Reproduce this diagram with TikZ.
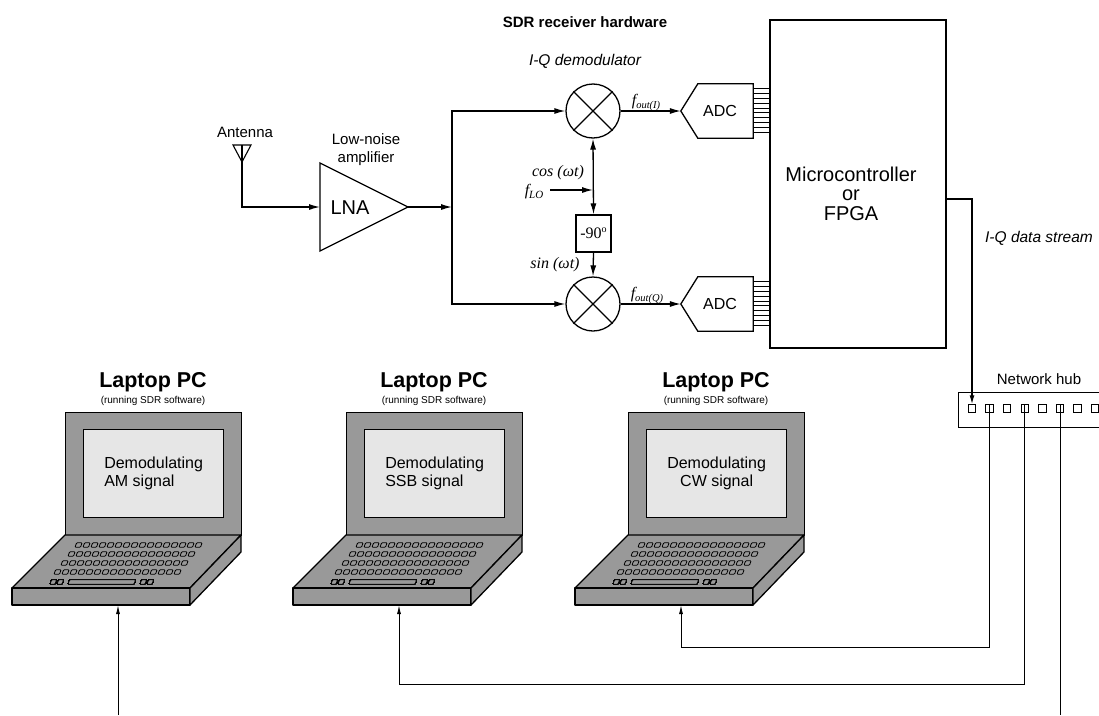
\documentclass[tikz,border=0pt]{standalone}
\usepackage{fontspec}
\setmainfont{Liberation Sans}
\newfontfamily\tms{Liberation Serif}
\usetikzlibrary{arrows.meta,calc}
\definecolor{bodygray}{HTML}{999999}
\definecolor{screengray}{HTML}{E6E6E6}

\tikzset{
  wire/.style={line width=1.3pt},
  arr/.style={wire,-{Latex[length=11pt,width=6pt]}},
  feed/.style={line width=1pt},
  feedarr/.style={feed,-{Latex[length=9pt,width=4pt]}},
  bus/.style={line width=0.8pt},
  lbl/.style={font=\fontsize{15}{18}\selectfont, inner sep=0pt, align=center},
  itlbl/.style={font=\fontsize{15.5}{18}\selectfont\itshape, inner sep=0pt},
  serif/.style={font=\fontsize{16}{18}\selectfont\tms\itshape, inner sep=0pt},
  mixer/.style={circle, draw, wire, minimum size=54pt, inner sep=0pt},
  adcbox/.style={minimum width=72pt, minimum height=54pt, inner sep=0pt,
                 font=\fontsize{16}{18}\selectfont},
  port/.style={draw, line width=1pt, fill=white, minimum size=7.5pt, inner sep=0pt},
  lapline/.style={line width=1.3pt, fill=bodygray, line join=round},
  keyline/.style={line width=0.8pt, fill=bodygray, rounded corners=0.8pt},
  laptitle/.style={font=\fontsize{21.5}{24}\selectfont\bfseries, inner sep=0pt},
  lapsub/.style={font=\fontsize{10}{12}\selectfont, inner sep=0pt},
  lid/.style={draw, line width=1.3pt, fill=bodygray, minimum width=176pt,
              minimum height=123pt, inner sep=0pt},
  screen/.style={draw, line width=1.3pt, fill=screengray, minimum width=140pt,
                 minimum height=88pt, inner sep=0pt, font=\fontsize{16}{18}\selectfont},
}

% one key cap: x, y (centre line), width
\newcommand\keycap[3]{%
  \draw[keyline] (#1,#2+2.2) -- ++(#3,0) -- ++(1.6,-4.4) -- ++(-#3,0) -- cycle;}

% laptop: x offset, name, second screen line, text alignment
\newcommand\laptopunit[4]{%
\begin{scope}[shift={(#1,0)}]
  \node[laptitle] (#2title) at (88,382) {Laptop PC};
  \node[lapsub] (#2sub) at (88,401) {(running SDR software)};
  \node[lid, anchor=north west] (#2lid) at (0,412) {};
  \node[screen, anchor=north west, align=#4] (#2screen) at (18,429) {Demodulating\\#3};
  \draw[lapline] (0,535) -- (176,535) -- (125,588) -- (-53,588) -- cycle;
  \draw[lapline] (-53,588) rectangle (125,605);
  \draw[lapline] (125,588) -- (176,535) -- (176,552) -- (125,605) -- cycle;
  \foreach \r/\s in {0/10,1/3,2/-4,3/-11}
    \foreach \k in {0,...,15}
      \keycap{\s+8*\k}{545+9*\r}{5.5}
  \keycap{-15}{582}{5}
  \keycap{-8}{582}{5}
  \keycap{3}{582}{66}
  \keycap{75}{582}{5}
  \keycap{82}{582}{5}
  \coordinate (#2in) at (53,605);
\end{scope}}

\begin{document}
\begin{tikzpicture}[x=1pt,y=-1pt]
\useasboundingbox (0,0) rectangle (1099,715);
\fill[white] (0,0) rectangle (1099,715);

% headings
\node[font=\fontsize{15}{18}\selectfont\bfseries, inner sep=0pt] (title) at (585,22) {SDR receiver hardware};
\node[itlbl] (demodtitle) at (585,61) {I-Q demodulator};

% antenna and low-noise amplifier
\node[lbl] (antlabel) at (245,132) {Antenna};
\coordinate (ant) at (242,145);
\draw[line width=1.1pt] (233,145) -- (251,145) -- (242,162) -- cycle;
\coordinate (lnain) at (320,207);
\coordinate (lnaout) at (408,207);
\draw[wire, line join=miter] (320,163) -- (lnaout) -- (320,251) -- cycle;
\node[font=\fontsize{20}{22}\selectfont, inner sep=0pt] (lnatext) at (350,208) {LNA};
\node[lbl] (lnalabel) at (366,150) {Low-noise\\amplifier};
\draw[arr] (ant) |- (lnain);

% splitter and mixers
\coordinate (splt) at (452,207);
\draw[arr] (lnaout) -- (splt);
\node[mixer] (m1) at (593,111) {};
\node[mixer] (m2) at (593,304) {};
\foreach \m in {m1,m2}
  \draw[wire] (\m.45) -- (\m.225) (\m.135) -- (\m.-45);
\draw[arr] (splt) |- (m1.west);
\draw[arr] (splt) |- (m2.west);

% local oscillator and phase shifter
\node[draw, wire, minimum width=35pt, minimum height=37pt, inner sep=0pt,
      font=\fontsize{16}{18}\selectfont\tms] (ph) at (593.5,233.5)
      {-90\raisebox{6pt}{\fontsize{10}{10}\selectfont o}};
\draw[wire, {Latex[length=11pt,width=6pt]}-{Latex[length=11pt,width=6pt]}] (m1.south) -- (ph.north);
\draw[arr] (ph.south) -- (m2.north);
\coordinate (lo) at (550,190);
\draw[arr] (lo) -- (lo -| m1.south);
\node[serif] (flo) at (534,192) {f\raisebox{-3pt}{\fontsize{11}{11}\selectfont LO}};
\node[serif] (cos) at (558,173) {cos (ωt)};
\node[serif] (sin) at (555,265) {sin (ωt)};

% converters
\node[adcbox] (adc1) at (717,111) {\hspace{6pt}ADC};
\node[adcbox] (adc2) at (717,304) {\hspace{6pt}ADC};
\foreach \a in {adc1,adc2}
  \draw[wire, line join=miter] (\a.west) -- ([xshift=17pt]\a.north west) -- (\a.north east)
     -- (\a.south east) -- ([xshift=17pt]\a.south west) -- cycle;
\draw[arr] (m1.east) -- (adc1.west);
\draw[arr] (m2.east) -- (adc2.west);
\node[serif] (fi) at (646,102) {f\raisebox{-3pt}{\fontsize{10.5}{11}\selectfont out(I)}};
\node[serif] (fq) at (647,295) {f\raisebox{-3pt}{\fontsize{10.5}{11}\selectfont out(Q)}};

% processor
\node[draw, wire, minimum width=176pt, minimum height=328pt, inner sep=0pt] (micro) at (858,184) {};
\node[font=\fontsize{20}{19.5}\selectfont, align=center, inner sep=0pt] (microtext) at (851,193.5)
  {Microcontroller\\or\\FPGA};
\foreach \a in {adc1,adc2}
  \foreach \i in {0,...,9} {
    \path (\a.north east) ++(0,{5+4.8*\i}) coordinate (b);
    \draw[bus] (b) -- (b -| micro.west);
  }

% network hub
\node[lbl] (hublabel) at (1039,379) {Network hub};
\node[draw, wire, minimum width=152pt, minimum height=35pt, inner sep=0pt, anchor=north west]
  (hub) at (958,392) {};
\foreach \k in {0,...,7}
  \node[port] (p\k) at ({972+17.6*\k},408.5) {};
\draw[wire, -{Latex[length=9pt,width=5pt]}] (micro.east) ++(0,15) -| (p0.north);
\node[itlbl] (streamlabel) at (1039,238) {I-Q data stream};

% laptops
\laptopunit{65}{lapa}{AM signal}{left}
\laptopunit{346}{lapb}{SSB signal}{left}
\laptopunit{628}{lapc}{CW signal}{center}

% laptop feeds
\draw[feedarr] (p1.north) -- (p1.north |- 0,647) -| (lapcin);
\draw[feedarr] (p3.north) -- (p3.north |- 0,684) -| (lapbin);
\coordinate (p5end) at (p5.north |- 0,715);
\draw[feed] (p5.north) -- (p5end);
\coordinate (amsrc) at (lapain |- 0,715);
\draw[feedarr] (amsrc) -- (lapain);
\end{tikzpicture}
\end{document}
